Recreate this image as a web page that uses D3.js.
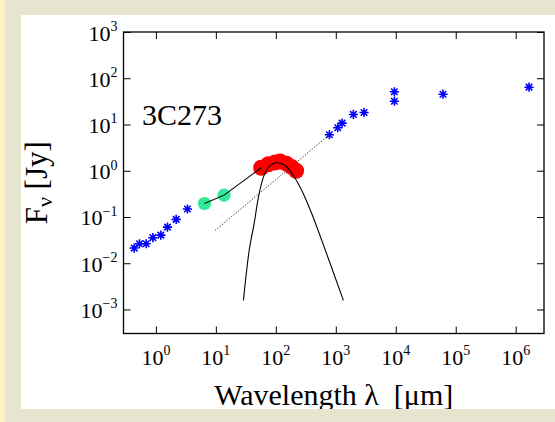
<!DOCTYPE html>
<html>
<head>
<meta charset="utf-8">
<script src="https://cdn.jsdelivr.net/npm/d3@7"></script>
<style>
  body { margin: 0; background: #ffffff; }
  svg { display: block; }
  text { font-family: "Liberation Serif", "Times New Roman", serif; fill: #000; white-space: pre; }
</style>
</head>
<body>
<svg id="chart" width="555" height="422"></svg>
<script>
// Spectral energy distribution of 3C273 (wavelength in micron, flux density in Jy)
const blueWl   = [0.435, 0.533, 0.689, 0.891, 1.21, 1.56, 2.18, 3.36, 782, 1080, 1274, 1965, 2963, 9480, 9480, 61400, 1.67e6];
const blueFlux = [0.0213, 0.0264, 0.0264, 0.0357, 0.0406, 0.0604, 0.0887, 0.149, 6.0, 8.5, 10.7, 16.5, 18.2, 51, 31.9, 45.2, 64.1];

const greenWl   = [6.46, 13.7];
const greenFlux = [0.196, 0.297];

const redWl   = [57, 75, 97, 118, 150, 185, 218];
const redFlux = [1.16, 1.38, 1.5, 1.59, 1.42, 1.2, 1.0];

// mid-IR power law joining the mid-IR points to the far-IR bump
const linkWl   = [6.46, 13.7, 57];
const linkFlux = [0.196, 0.297, 1.16];

// synchrotron extrapolation
const syncWl   = [9.73, 782];
const syncFlux = [0.0513, 6.0];

// thermal dust component
const dustWl   = [28.8, 36.3, 43.5, 51.3, 62.1, 75.3, 104, 143, 196, 271, 398, 584, 1339];
const dustFlux = [0.00157, 0.0206, 0.0716, 0.269, 0.727, 1.20, 1.49, 1.30, 0.791, 0.375, 0.118, 0.0312, 0.00157];

const xTicks = [1, 10, 100, 1e3, 1e4, 1e5, 1e6];
const xTickExp = ["0", "1", "2", "3", "4", "5", "6"];
const yTicks = [1e-3, 1e-2, 1e-1, 1, 10, 100, 1000];
const yTickExp = ["\u22123", "\u22122", "\u22121", "0", "1", "2", "3"];

const W = 555, H = 422;
const L = 123.5, R = 544, T = 32, B = 333.5;

const svg = d3.select("#chart");

// page frame
svg.append("rect").attr("x", 0).attr("y", 0).attr("width", W).attr("height", H).attr("fill", "#e6e5cf");
svg.append("rect").attr("x", 21).attr("y", 15).attr("width", W - 21).attr("height", 409 - 15).attr("fill", "#ffffff");

const x = d3.scaleLog().domain([Math.pow(10, -0.54), Math.pow(10, 6.472)]).range([L, R]);
const y = d3.scaleLog().domain([Math.pow(10, -3.519), 1000]).range([B, T]);

const plot = svg.append("g");
plot.append("clipPath").attr("id", "clip")
  .append("rect").attr("x", L).attr("y", T).attr("width", R - L).attr("height", B - T);

const marks = plot.append("g").attr("clip-path", "url(#clip)");

// markers
const toPts = (xs, ys) => xs.map((v, i) => [v, ys[i]]);

marks.selectAll("circle.red").data(toPts(redWl, redFlux)).enter()
  .append("circle").attr("class", "red")
  .attr("cx", d => x(d[0])).attr("cy", d => y(d[1])).attr("r", 8)
  .attr("fill", "#ff0000");

marks.selectAll("circle.green").data(toPts(greenWl, greenFlux)).enter()
  .append("circle").attr("class", "green")
  .attr("cx", d => x(d[0])).attr("cy", d => y(d[1])).attr("r", 6.6)
  .attr("fill", "#30ea98");

const sr = 4.6, sd = sr * 0.7071;
const starPath = `M${-sr},0H${sr}M0,${-sr}V${sr}M${-sd},${-sd}L${sd},${sd}M${-sd},${sd}L${sd},${-sd}`;
marks.selectAll("path.star").data(toPts(blueWl, blueFlux)).enter()
  .append("path").attr("class", "star")
  .attr("transform", d => `translate(${x(d[0])},${y(d[1])})`)
  .attr("d", starPath)
  .attr("fill", "none").attr("stroke", "#0000ff").attr("stroke-width", 1.6);

// lines
const line = d3.line().x(d => x(d[0])).y(d => y(d[1]));

marks.append("path").datum(toPts(syncWl, syncFlux))
  .attr("d", line).attr("fill", "none")
  .attr("stroke", "#333").attr("stroke-width", 1).attr("stroke-dasharray", "1.3,1.7");

marks.append("path").datum(toPts(linkWl, linkFlux))
  .attr("d", line).attr("fill", "none")
  .attr("stroke", "#000").attr("stroke-width", 1.1);

marks.append("path").datum(toPts(dustWl, dustFlux))
  .attr("d", d3.line().x(d => x(d[0])).y(d => y(d[1])).curve(d3.curveCatmullRom.alpha(0.5)))
  .attr("fill", "none").attr("stroke", "#000").attr("stroke-width", 1.1);

// axes: ticks point inward on all four sides
const axG = plot.append("g");
axG.append("g").attr("transform", `translate(0,${B})`)
  .call(d3.axisBottom(x).tickValues(xTicks).tickSize(-7).tickFormat(""));
axG.append("g").attr("transform", `translate(0,${T})`)
  .call(d3.axisTop(x).tickValues(xTicks).tickSize(-7).tickFormat(""));
axG.append("g").attr("transform", `translate(${L},0)`)
  .call(d3.axisLeft(y).tickValues(yTicks).tickSize(-7).tickFormat(""));
axG.append("g").attr("transform", `translate(${R},0)`)
  .call(d3.axisRight(y).tickValues(yTicks).tickSize(-7).tickFormat(""));
axG.selectAll(".domain").remove();
axG.selectAll(".tick line").attr("stroke", "#000").attr("stroke-width", 1);

plot.append("rect").attr("x", L).attr("y", T).attr("width", R - L).attr("height", B - T)
  .attr("fill", "none").attr("stroke", "#000").attr("stroke-width", 1.3);

// tick labels with superscript exponents
const xl = plot.append("g").selectAll("text").data(xTicks).enter().append("text")
  .attr("x", d => x(d)).attr("y", 364.5).attr("text-anchor", "middle")
  .style("font-size", "22px");
xl.append("tspan").text("10");
xl.append("tspan").attr("dy", -9.5).style("font-size", "14px").text((d, i) => xTickExp[i]);

const yl = plot.append("g").selectAll("text").data(yTicks).enter().append("text")
  .attr("x", L - 6).attr("y", d => y(d) + 8.5).attr("text-anchor", "end")
  .style("font-size", "22px");
yl.append("tspan").text("10");
yl.append("tspan").attr("dy", -9.5).style("font-size", "14px").text((d, i) => yTickExp[i]);

// source name
plot.append("text").attr("x", 142).attr("y", 124.5).style("font-size", "30px").text("3C273");

// axis titles
plot.append("text").attr("x", (L + R) / 2).attr("y", 405).attr("text-anchor", "middle")
  .style("font-size", "30px").text("Wavelength \u03bb  [\u03bcm]");

const yt = plot.append("text")
  .attr("transform", `translate(47,${(T + B) / 2}) rotate(-90)`)
  .attr("text-anchor", "middle").style("font-size", "31px");
yt.append("tspan").text("F");
yt.append("tspan").attr("dy", 5).style("font-size", "22px").text("\u03bd");
yt.append("tspan").attr("dy", -5).text(" [Jy]");

// lower band and left strip of the page frame
svg.append("rect").attr("x", 0).attr("y", 409).attr("width", W).attr("height", H - 409).attr("fill", "#e6e5cf");
svg.append("rect").attr("x", 0).attr("y", 0).attr("width", 5).attr("height", H).attr("fill", "#fef2c7");
</script>
</body>
</html>
